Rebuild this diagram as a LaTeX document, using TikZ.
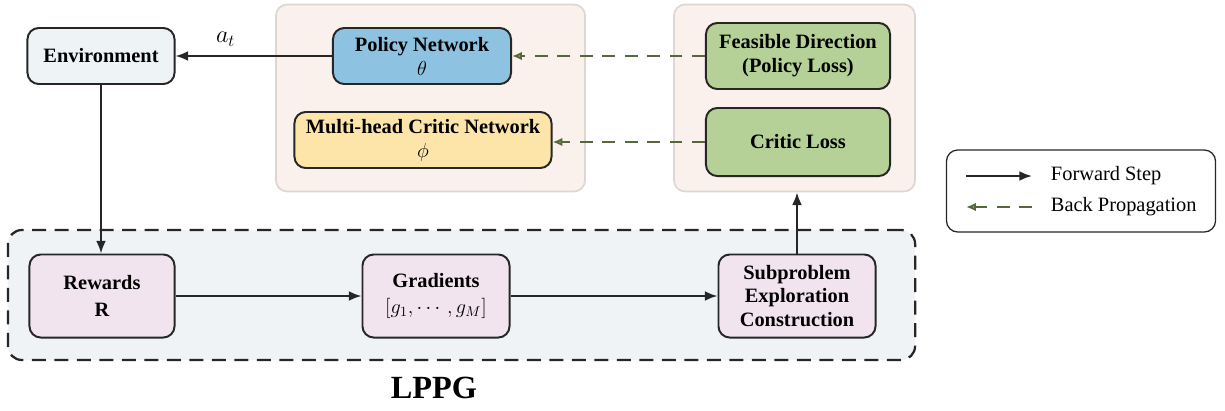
\documentclass[tikz,border=0pt]{standalone}
\usepackage{fontspec}
\setmainfont{Liberation Serif}
\usepackage{amsmath}
\usetikzlibrary{arrows.meta,positioning}
\definecolor{envfill}{HTML}{EEF3F6}
\definecolor{policyblue}{HTML}{8DC2E1}
\definecolor{criticyellow}{HTML}{FDE5AA}
\definecolor{lossgreen}{HTML}{B5D197}
\definecolor{stagepink}{HTML}{F2E4EF}
\definecolor{panelfill}{HTML}{FBF1EC}
\definecolor{paneldraw}{HTML}{DDD6D2}
\definecolor{lppgfill}{HTML}{EFF3F6}
\definecolor{backolive}{HTML}{55683A}
\tikzset{
  box/.style={rectangle, draw=black!85, line width=1.4pt, rounded corners=8pt, align=center, font=\fontsize{14.5}{17}\selectfont\bfseries},
  envbox/.style={box, fill=envfill, minimum width=3.675cm, minimum height=1.4cm},
  netbox/.style={box, minimum height=1.4cm},
  lossbox/.style={box, fill=lossgreen, minimum width=4.6cm},
  stagebox/.style={box, fill=stagepink, minimum height=2.075cm},
  panel/.style={rectangle, draw=paneldraw, line width=1.2pt, fill=panelfill, rounded corners=8pt},
  lppgbox/.style={rectangle, draw=black!85, line width=1.6pt, dash pattern=on 10pt off 6pt, fill=lppgfill, rounded corners=10pt},
  legendbox/.style={rectangle, draw=black!85, line width=0.9pt, rounded corners=8pt},
  arrow/.style={-{Latex[length=9pt,width=7pt]}, line width=1.4pt, draw=black!85},
  backarrow/.style={-{Latex[open,length=7pt,width=6pt]}, line width=1.4pt, draw=backolive, dash pattern=on 9pt off 7pt},
  legendtext/.style={anchor=west, font=\fontsize{14.5}{17}\selectfont},
}
\begin{document}
\begin{tikzpicture}[x=0.025cm, y=-0.025cm]
  \useasboundingbox (0,0) rectangle (1225,410);

  % Panels
  \node[panel, minimum width=7.725cm, minimum height=4.675cm] (netpanel) at (430.5,98) {};
  \node[panel, minimum width=6.025cm, minimum height=4.675cm] (losspanel) at (794.5,98) {};
  \node[lppgbox, minimum width=22.675cm, minimum height=3.25cm] (lppg) at (461.5,295) {};
  \node[font=\fontsize{23}{27}\selectfont\bfseries] (lppglabel) at (434,388) {LPPG};

  % Top row
  \node[envbox] (env) at (101,56) {Environment};
  \node[netbox, fill=policyblue, minimum width=4.45cm] (policy) at (422,56) {Policy Network\\$\theta$};
  \node[netbox, fill=criticyellow, minimum width=6.425cm] (critic) at (423,140) {Multi-head Critic Network\\$\phi$};
  \node[lossbox, minimum height=1.65cm] (feasible) at (798,56) {Feasible Direction\\(Policy Loss)};
  \node[lossbox, minimum height=1.7cm] (criticloss) at (798,142) {Critic Loss};

  % LPPG stages
  \node[stagebox, minimum width=3.625cm] (rewards) at (102,296) {Rewards\\[2pt]$\mathbf{R}$};
  \node[stagebox, minimum width=3.675cm] (grads) at (436,296) {Gradients\\[2pt]$[g_1,\cdots,g_M]$};
  \node[stagebox, minimum width=3.925cm] (subprob) at (797,296) {Subproblem\\Exploration\\Construction};

  % Connectors
  \draw[arrow] (policy) -- node[above, pos=0.68, yshift=3pt, font=\fontsize{17}{20}\selectfont] {$a_t$} (env);
  \draw[arrow] (env.south) -- (env.south |- rewards.north);
  \draw[arrow] (rewards) -- (grads);
  \draw[arrow] (grads) -- (subprob);
  \draw[arrow] (subprob.north) -- (subprob.north |- losspanel.south);
  \draw[backarrow] (feasible) -- (policy);
  \draw[backarrow] (criticloss.west) -- (critic.east |- criticloss.west);

  % Legend
  \node[legendbox, minimum width=6.725cm, minimum height=2.05cm] (legend) at (1081,191) {};
  \coordinate (fwdA) at (966,176);
  \coordinate (fwdB) at (1032,176);
  \coordinate (backA) at (966,207);
  \coordinate (backB) at (1032,207);
  \draw[arrow] (fwdA) -- (fwdB);
  \draw[backarrow] (backB) -- (backA);
  \node[legendtext] (fwdtext) at (1046,176) {Forward Step};
  \node[legendtext] (backtext) at (1046,207) {Back Propagation};
\end{tikzpicture}
\end{document}
